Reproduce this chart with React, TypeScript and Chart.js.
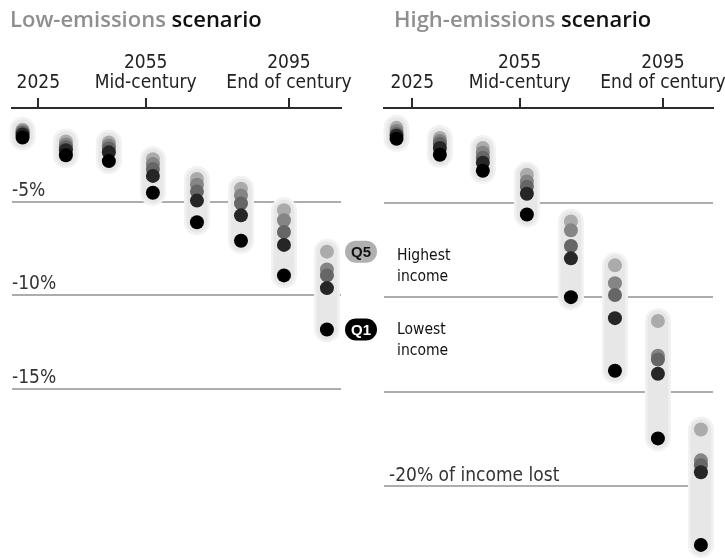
import React, { useEffect, useRef } from "react";
import { Chart, registerables } from "chart.js";

Chart.register(...registerables);

// ---------- data ----------
const quintiles = ["Q1", "Q2", "Q3", "Q4", "Q5"];
const columnYears = [2020.6, 2032.7, 2044.7, 2057.0, 2069.3, 2081.6, 2093.6, 2105.6];
const axisTickYears = [2025, 2055, 2095];
const axisTickLabels = [["2025"], ["2055", "Mid-century"], ["2095", "End of century"]];

const lowQ5 = [-1.16, -1.79, -1.84, -2.74, -3.79, -4.32, -5.47, -7.68];
const lowQ4 = [-1.24, -1.95, -2.0, -3.0, -4.1, -4.68, -6.0, -8.63];
const lowQ3 = [-1.32, -2.1, -2.16, -3.26, -4.47, -5.1, -6.63, -8.95];
const lowQ2 = [-1.42, -2.26, -2.37, -3.63, -4.95, -5.74, -7.32, -9.63];
const lowQ1 = [-1.58, -2.53, -2.84, -4.53, -6.11, -7.1, -8.95, -11.84];

const highQ5 = [-1.05, -1.58, -2.11, -3.53, -6.0, -8.32, -11.26, -17.0];
const highQ4 = [-1.21, -1.74, -2.37, -3.89, -6.47, -9.26, -13.1, -18.63];
const highQ3 = [-1.37, -1.89, -2.63, -4.16, -7.3, -9.89, -13.3, -18.89];
const highQ2 = [-1.47, -2.11, -2.89, -4.53, -7.95, -11.11, -14.05, -19.26];
const highQ1 = [-1.63, -2.47, -3.32, -5.63, -10.0, -13.89, -17.47, -23.1];

const lowGridValues = [-5, -10, -15];
const lowGridLabels = ["-5%", "-10%", "-15%"];
const highGridValues = [-5, -10, -15, -20];
const highGridLabels = ["", "", "", "-20% of income lost"];

// ---------- styling ----------
const quintileColors = ["#000000", "#262626", "#666666", "#858585", "#ababab"];
const NARROW = '"Liberation Sans Narrow", "DejaVu Sans Condensed", sans-serif';

const titlePlugin = {
  id: "panelTitle",
  afterDraw(chart: any, _args: any, opts: any) {
    const ctx = chart.ctx;
    ctx.save();
    ctx.font = '600 22px "Open Sans", sans-serif';
    ctx.textBaseline = "alphabetic";
    ctx.textAlign = "left";
    let x = chart.chartArea.left + opts.dx;
    for (const p of opts.parts) {
      ctx.fillStyle = p.color;
      ctx.fillText(p.text, x, opts.y);
      x += ctx.measureText(p.text).width;
    }
    ctx.restore();
  },
};

const quintileKeyPlugin = {
  id: "quintileKey",
  afterDatasetsDraw(chart: any) {
    const { ctx, scales } = chart;
    const xs = scales.x;
    const ys = scales.y;
    const last = columnYears.length - 1;
    const items = [
      { label: "Q5", value: lowQ5[last], fill: "#b0b0b0", color: "#111", lines: ["Highest", "income"], dy: 8 },
      { label: "Q1", value: lowQ1[last], fill: "#000000", color: "#fff", lines: ["Lowest", "income"], dy: 5 },
    ];
    const cx = xs.right + 20;
    ctx.save();
    for (const it of items) {
      const py = ys.getPixelForValue(it.value);
      ctx.fillStyle = it.fill;
      ctx.beginPath();
      (ctx as any).roundRect(cx - 16, py - 11, 32, 22, 11);
      ctx.fill();
      ctx.fillStyle = it.color;
      ctx.font = 'bold 15px "Liberation Sans", Arial, sans-serif';
      ctx.textAlign = "center";
      ctx.textBaseline = "middle";
      ctx.fillText(it.label, cx, py + 1);
      ctx.fillStyle = "#111";
      ctx.font = "15.5px " + NARROW;
      ctx.textAlign = "left";
      ctx.textBaseline = "alphabetic";
      it.lines.forEach((t, k) => ctx.fillText(t, xs.right + 56, py + it.dy + k * 21));
    }
    ctx.restore();
  },
};

function buildConfig(p: any) {
  const series = p.series as number[][]; // Q1..Q5
  const pillData = columnYears.flatMap((yr, i) => {
    const vals = series.map((s) => s[i]);
    return [
      { x: yr, y: Math.max(...vals) },
      { x: yr, y: Math.min(...vals) },
      { x: yr, y: null },
    ];
  });
  const datasets: any[] = [
    {
      label: "range-halo",
      data: pillData,
      showLine: true,
      borderColor: "#f2f2f2",
      borderWidth: 26,
      borderCapStyle: "round",
      pointRadius: 0,
      spanGaps: false,
      order: 20,
      clip: false,
    },
    {
      label: "range",
      data: pillData,
      showLine: true,
      borderColor: "#e7e7e7",
      borderWidth: 21,
      borderCapStyle: "round",
      pointRadius: 0,
      spanGaps: false,
      order: 19,
      clip: false,
    },
  ];
  quintiles.forEach((q, k) => {
    datasets.push({
      label: q,
      data: columnYears.map((yr, i) => ({ x: yr, y: series[k][i] })),
      showLine: false,
      pointRadius: 7,
      pointHoverRadius: 7,
      pointBorderWidth: 0,
      pointBackgroundColor: quintileColors[k],
      backgroundColor: quintileColors[k],
      order: k,
      clip: false,
    });
  });

  return {
    type: "scatter",
    data: { datasets },
    plugins: [titlePlugin, ...(p.extraPlugins || [])],
    options: {
      animation: false,
      responsive: false,
      events: [],
      layout: { padding: p.padding },
      plugins: {
        legend: { display: false },
        tooltip: { enabled: false },
        panelTitle: { parts: p.titleParts, dx: p.titleDx, y: 27 },
      },
      scales: {
        x: {
          type: "linear",
          position: "top",
          min: p.xMin,
          max: p.xMax,
          afterBuildTicks: (s: any) => {
            s.ticks = axisTickYears.map((v) => ({ value: v }));
          },
          border: { display: true, color: "#2b2b2b", width: 2 },
          grid: { drawOnChartArea: false, drawTicks: true, tickLength: 10, color: "#2b2b2b", lineWidth: 2 },
          ticks: {
            autoSkip: false,
            maxRotation: 0,
            padding: 5,
            color: "#222",
            font: { family: NARROW, size: 19, lineHeight: "20px" },
            callback: (_v: any, i: number) => axisTickLabels[i],
          },
        },
        y: {
          type: "linear",
          min: -23.74,
          max: 0,
          afterBuildTicks: (s: any) => {
            s.ticks = p.gridValues.map((v: number) => ({ value: v }));
          },
          border: { display: false },
          grid: { drawTicks: false, color: "#adadad", lineWidth: 2 },
          ticks: {
            mirror: true,
            align: "end",
            padding: p.yPad,
            labelOffset: -1,
            color: "#333",
            font: { family: NARROW, size: 19 },
            callback: (_v: any, i: number) => p.gridLabels[i],
          },
        },
      },
    },
  };
}

export default function App() {
  const leftRef = useRef<HTMLCanvasElement>(null);
  const rightRef = useRef<HTMLCanvasElement>(null);

  useEffect(() => {
    const left = new Chart(
      leftRef.current as HTMLCanvasElement,
      buildConfig({
        series: [lowQ1, lowQ2, lowQ3, lowQ4, lowQ5],
        gridValues: lowGridValues,
        gridLabels: lowGridLabels,
        xMin: 2017.65,
        xMax: 2109.53,
        padding: { left: 12, right: 384, top: 48, bottom: 0 },
        yPad: 0,
        titleParts: [
          { text: "Low-emissions ", color: "#8f8f8f" },
          { text: "scenario", color: "#111" },
        ],
        titleDx: -2,
        extraPlugins: [quintileKeyPlugin],
      }) as any
    );
    const right = new Chart(
      rightRef.current as HTMLCanvasElement,
      buildConfig({
        series: [highQ1, highQ2, highQ3, highQ4, highQ5],
        gridValues: highGridValues,
        gridLabels: highGridLabels,
        xMin: 2017.1,
        xMax: 2108.98,
        padding: { left: 374, right: 32, top: 48, bottom: 0 },
        yPad: 5,
        titleParts: [
          { text: "High-emissions ", color: "#8f8f8f" },
          { text: "scenario", color: "#111" },
        ],
        titleDx: 10,
      }) as any
    );
    return () => {
      left.destroy();
      right.destroy();
    };
  }, []);

  return (
    <div style={{ position: "absolute", left: 0, top: 0, width: 725, height: 559, background: "#fff", overflow: "hidden" }}>
      <canvas ref={leftRef} width={725} height={559} style={{ position: "absolute", left: 0, top: 0 }} />
      <canvas ref={rightRef} width={745} height={564} style={{ position: "absolute", left: 0, top: 0 }} />
    </div>
  );
}
